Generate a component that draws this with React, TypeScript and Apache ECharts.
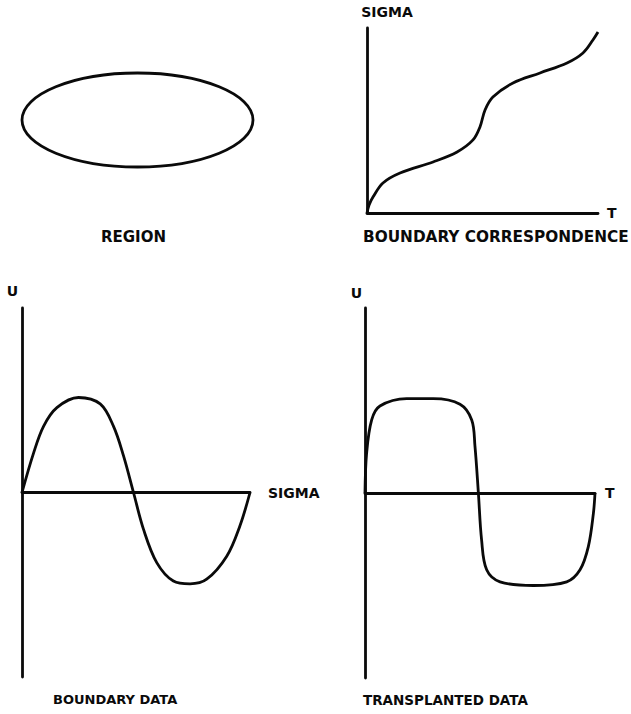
import React, { useEffect, useRef } from "react";
import * as echarts from "echarts";

// Region: an ellipse given by centre and semi-axes
const REGION_CENTER = [0, 0];
const REGION_SEMI_AXES = [2.5, 1];

// Boundary correspondence: sigma as a function of t
const CORR_T = [0, 0.009, 0.026, 0.069, 0.143, 0.286, 0.39, 0.459, 0.489, 0.511, 0.545, 0.632, 0.749, 0.866, 0.935, 0.978, 1.0];
const CORR_SIGMA = [0, 0.043, 0.086, 0.162, 0.216, 0.276, 0.33, 0.395, 0.465, 0.557, 0.627, 0.703, 0.757, 0.811, 0.865, 0.935, 0.978];

// Boundary data: u against sigma
const BDATA_SIGMA = [0, 0.051, 0.095, 0.153, 0.248, 0.343, 0.401, 0.445, 0.489, 0.533, 0.591, 0.664, 0.737, 0.81, 0.898, 0.956, 1.0];
const BDATA_U = [0, 0.43, 0.72, 0.92, 1.03, 0.96, 0.72, 0.4, 0, -0.4, -0.76, -0.96, -0.99, -0.94, -0.69, -0.36, 0];

// Transplanted data: u against t
const TDATA_T = [0, 0.007, 0.029, 0.065, 0.181, 0.297, 0.413, 0.464, 0.478, 0.493, 0.507, 0.529, 0.587, 0.732, 0.877, 0.935, 0.971, 0.993, 1.0];
const TDATA_U = [0, 0.43, 0.79, 0.94, 1.02, 1.02, 0.96, 0.79, 0.51, 0, -0.51, -0.83, -0.96, -1.0, -0.96, -0.83, -0.58, -0.22, 0];

const INK = "#0a0a0a";
const FONT = "DejaVu Sans";
const STROKE = 2.8;

const zip = (xs: number[], ys: number[]) => xs.map((x, i) => [x, ys[i]]);

const hiddenParts = {
  axisTick: { show: false },
  axisLabel: { show: false },
  splitLine: { show: false },
};

const shownLine = { show: true, onZero: true, lineStyle: { color: INK, width: STROKE } };

const nameStyle = (extra: Record<string, unknown>) => ({
  color: INK,
  fontFamily: FONT,
  fontWeight: "bold",
  fontSize: 14,
  ...extra,
});

const caption = (text: string, left: number, top: number, size: number) => ({
  text,
  left,
  top,
  padding: 0,
  textStyle: { color: INK, fontFamily: FONT, fontWeight: "bold", fontSize: size },
});

const curve = (axis: number, data: number[][]) => ({
  type: "line",
  xAxisIndex: axis,
  yAxisIndex: axis,
  data,
  smooth: 0.35,
  showSymbol: false,
  symbol: "none",
  clip: false,
  lineStyle: { color: INK, width: STROKE },
});

export default function App() {
  const ref = useRef<HTMLDivElement>(null);

  useEffect(() => {
    if (!ref.current) return;
    const chart = echarts.init(ref.current, undefined, { renderer: "svg" });

    const option = {
      animation: false,
      backgroundColor: "#ffffff",
      title: [
        caption("REGION", 101, 229, 15),
        caption("BOUNDARY CORRESPONDENCE", 363, 229, 15.3),
        caption("BOUNDARY DATA", 53, 693, 13),
        caption("TRANSPLANTED DATA", 363, 693, 13.5),
      ],
      grid: [
        { left: 22, top: 73, width: 231, height: 94 },
        { left: 367, top: 28, width: 231, height: 185 },
        { left: 22, top: 308, width: 228, height: 369 },
        { left: 365, top: 308, width: 230, height: 370 },
      ],
      xAxis: [
        { type: "value", gridIndex: 0, min: -2.5, max: 2.5, show: false },
        {
          type: "value", gridIndex: 1, min: 0, max: 1, axisLine: shownLine, ...hiddenParts,
          name: "T", nameLocation: "end", nameGap: 9,
          nameTextStyle: nameStyle({ align: "left", verticalAlign: "middle", padding: [0, 0, 4, 0] }),
        },
        {
          type: "value", gridIndex: 2, min: 0, max: 1, axisLine: shownLine, ...hiddenParts,
          name: "SIGMA", nameLocation: "end", nameGap: 18,
          nameTextStyle: nameStyle({ align: "left", verticalAlign: "middle", padding: [0, 0, 10, 0] }),
        },
        {
          type: "value", gridIndex: 3, min: 0, max: 1, axisLine: shownLine, ...hiddenParts,
          name: "T", nameLocation: "end", nameGap: 10,
          nameTextStyle: nameStyle({ align: "left", verticalAlign: "middle", padding: [0, 0, 8, 0] }),
        },
      ],
      yAxis: [
        { type: "value", gridIndex: 0, min: -1, max: 1, show: false },
        {
          type: "value", gridIndex: 1, min: 0, max: 1, axisLine: shownLine, ...hiddenParts,
          name: "SIGMA", nameLocation: "end", nameGap: 9,
          nameTextStyle: nameStyle({ align: "center", verticalAlign: "bottom", padding: [0, 0, 0, 40] }),
        },
        {
          type: "value", gridIndex: 2, min: -2, max: 2, axisLine: shownLine, ...hiddenParts,
          name: "U", nameLocation: "end", nameGap: 10,
          nameTextStyle: nameStyle({ align: "right", verticalAlign: "bottom", padding: [0, 4, 0, 0] }),
        },
        {
          type: "value", gridIndex: 3, min: -2, max: 2, axisLine: shownLine, ...hiddenParts,
          name: "U", nameLocation: "end", nameGap: 8,
          nameTextStyle: nameStyle({ align: "right", verticalAlign: "bottom", padding: [0, 3, 0, 0] }),
        },
      ],
      series: [
        {
          type: "custom",
          coordinateSystem: "cartesian2d",
          xAxisIndex: 0,
          yAxisIndex: 0,
          clip: false,
          data: [[REGION_CENTER[0], REGION_CENTER[1], REGION_SEMI_AXES[0], REGION_SEMI_AXES[1]]],
          renderItem: (_params: unknown, api: any) => {
            const cx = api.value(0);
            const cy = api.value(1);
            const c = api.coord([cx, cy]);
            const e = api.coord([cx + api.value(2), cy + api.value(3)]);
            return {
              type: "ellipse",
              shape: { cx: c[0], cy: c[1], rx: Math.abs(e[0] - c[0]), ry: Math.abs(e[1] - c[1]) },
              style: { fill: "none", stroke: INK, lineWidth: STROKE },
            };
          },
        },
        curve(1, zip(CORR_T, CORR_SIGMA)),
        curve(2, zip(BDATA_SIGMA, BDATA_U)),
        curve(3, zip(TDATA_T, TDATA_U)),
      ],
    };

    chart.setOption(option as any);
    return () => chart.dispose();
  }, []);

  return (
    <div
      ref={ref}
      style={{ position: "fixed", left: 0, top: 0, width: 631, height: 714, background: "#ffffff" }}
    />
  );
}
